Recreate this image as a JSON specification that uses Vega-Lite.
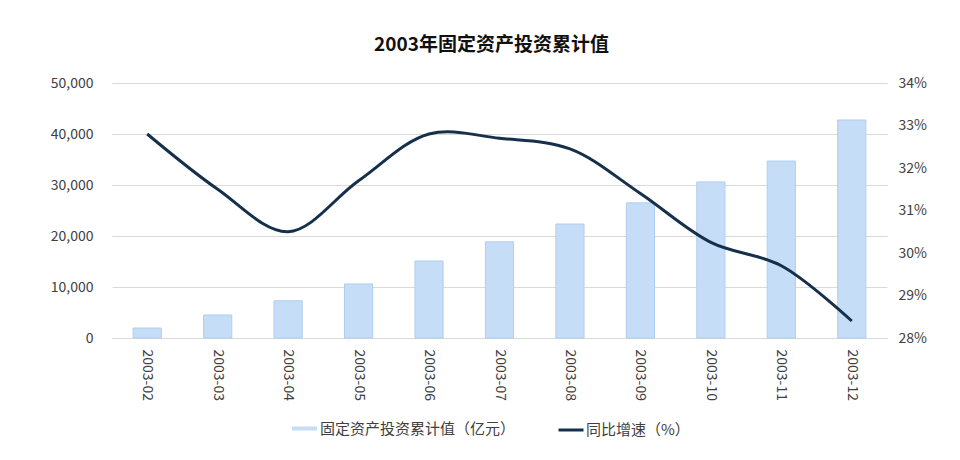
{
  "$schema": "https://vega.github.io/schema/vega-lite/v6.json",
  "width": 775,
  "height": 255,
  "autosize": {"type": "none"},
  "padding": {"left": 112, "top": 83, "right": 73, "bottom": 122},
  "background": "white",
  "config": {
    "font": "Noto Sans CJK SC",
    "view": {"stroke": null},
    "axis": {"labelFont": "Noto Sans CJK SC", "labelColor": "#404040", "labelFontSize": 14}
  },
  "title": {
    "text": "2003年固定资产投资累计值",
    "fontSize": 19,
    "fontWeight": "bold",
    "color": "#111111",
    "font": "Noto Sans CJK SC",
    "anchor": "middle",
    "dx": -8,
    "offset": 21
  },
  "data": {
    "values": [
      {"month": "2003-02", "value": 1960, "growth": 32.8},
      {"month": "2003-03", "value": 4510, "growth": 31.5},
      {"month": "2003-04", "value": 7300, "growth": 30.5},
      {"month": "2003-05", "value": 10600, "growth": 31.7},
      {"month": "2003-06", "value": 15100, "growth": 32.8},
      {"month": "2003-07", "value": 18850, "growth": 32.7},
      {"month": "2003-08", "value": 22350, "growth": 32.45},
      {"month": "2003-09", "value": 26500, "growth": 31.4},
      {"month": "2003-10", "value": 30600, "growth": 30.25},
      {"month": "2003-11", "value": 34700, "growth": 29.7},
      {"month": "2003-12", "value": 42750, "growth": 28.4}
    ]
  },
  "encoding": {
    "x": {
      "field": "month",
      "type": "ordinal",
      "scale": {"paddingInner": 0.6, "paddingOuter": 0.3},
      "axis": {
        "title": null,
        "labelAngle": 90,
        "labelAlign": "left",
        "labelBaseline": "middle",
        "labelPadding": 11,
        "labelFontSize": 14,
        "ticks": false,
        "domainColor": "#d9d9d9",
        "domainWidth": 1
      }
    }
  },
  "layer": [
    {
      "mark": {"type": "bar", "stroke": "#b0cdee", "strokeWidth": 1},
      "encoding": {
        "y": {
          "field": "value",
          "type": "quantitative",
          "scale": {"domain": [0, 50000]},
          "axis": {
            "title": null,
            "values": [0, 10000, 20000, 30000, 40000, 50000],
            "labelExpr": "format(datum.value, ',.0f')",
            "domain": false,
            "ticks": false,
            "labelPadding": 19,
            "gridColor": "#d9d9d9",
            "grid": true
          }
        },
        "fill": {
          "datum": "固定资产投资累计值（亿元）",
          "type": "nominal",
          "scale": {"range": ["#c6ddf7"]},
          "legend": {
            "orient": "none",
            "legendX": 180,
            "legendY": 333,
            "title": null,
            "labelFontSize": 15,
            "labelColor": "#404040",
            "labelFont": "Noto Sans CJK SC",
            "labelLimit": 400,
            "labelOffset": 3,
            "symbolType": "M-1,-0.16L1,-0.16L1,0.16L-1,0.16Z",
            "symbolSize": 625,
            "symbolStrokeWidth": 0
          }
        }
      }
    },
    {
      "mark": {"type": "line", "interpolate": "catmull-rom", "strokeWidth": 3},
      "encoding": {
        "y": {
          "field": "growth",
          "type": "quantitative",
          "scale": {"domain": [28, 34], "zero": false},
          "axis": {
            "title": null,
            "orient": "right",
            "values": [28, 29, 30, 31, 32, 33, 34],
            "labelExpr": "datum.value + '%'",
            "domain": false,
            "ticks": false,
            "grid": false,
            "labelPadding": 11
          }
        },
        "stroke": {
          "datum": "同比增速（%）",
          "type": "nominal",
          "scale": {"range": ["#16304b"]},
          "legend": {
            "orient": "none",
            "legendX": 445,
            "legendY": 333,
            "title": null,
            "labelFontSize": 15,
            "labelColor": "#404040",
            "labelFont": "Noto Sans CJK SC",
            "labelLimit": 400,
            "labelOffset": 1,
            "symbolType": "stroke",
            "symbolSize": 625,
            "symbolStrokeWidth": 3
          }
        }
      }
    }
  ],
  "resolve": {"scale": {"y": "independent"}}
}
